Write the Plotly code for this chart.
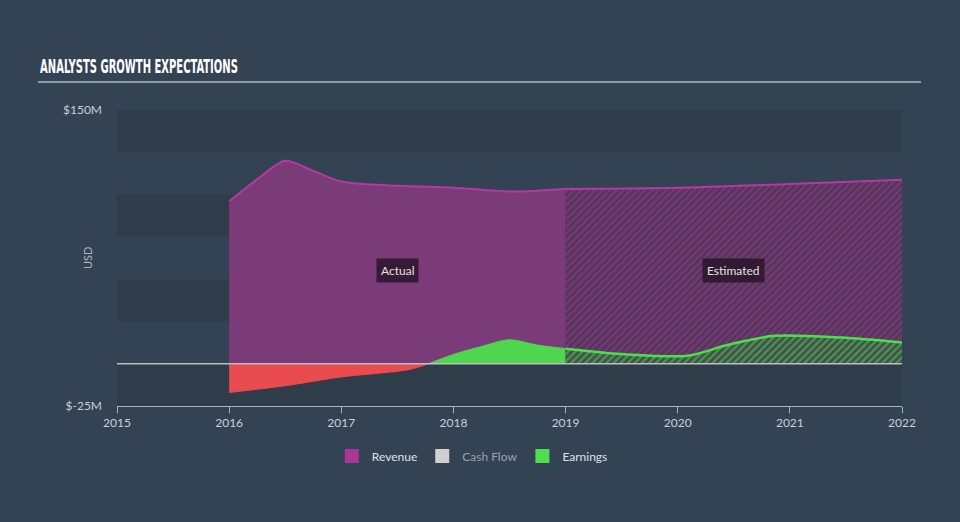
import plotly.graph_objects as go

# ---- data (USD millions) ----
rev_actual_x = [2016, 2016.25, 2016.5, 2016.75, 2017, 2017.5, 2018, 2018.5, 2019]
rev_actual_y = [96, 109, 120, 114, 107.7, 105.2, 104.1, 101.8, 103.3]
rev_est_x = [2019, 2020, 2021, 2022]
rev_est_y = [103.3, 104.0, 106.3, 108.7]

earn_neg_x = [2016, 2016.5, 2017, 2017.35, 2017.6, 2017.78]
earn_neg_y = [-17, -13, -7.8, -5.5, -3.5, 0]
earn_pos_x = [2017.78, 2018, 2018.25, 2018.5, 2018.75, 2019]
earn_pos_y = [0, 5.5, 10.2, 14.2, 11, 8.9]
earn_est_x = [2019, 2019.5, 2020.09, 2020.45, 2020.86, 2021.46, 2022]
earn_est_y = [8.9, 5.7, 4.7, 11.2, 16.5, 15.5, 12.6]

x_ticks = [2015, 2016, 2017, 2018, 2019, 2020, 2021, 2022]
y_tick_vals = [-25, 150]
y_tick_text = ["$-25M", "$150M"]
band_ranges = [(125, 150), (75, 100), (25, 50), (-25, 0)]

legend_names = ["Revenue", "Cash Flow", "Earnings"]
legend_colors = ["#a8389a", "#cfcfcf", "#4fe04f"]

TITLE = "ANALYSTS GROWTH EXPECTATIONS"

BG = "#344353"
REV_LINE = "#b23aa0"
REV_FILL = "#7b3a78"
GREEN = "#4fd64f"
RED = "#e94b4f"

fig = go.Figure()

fig.add_trace(go.Scatter(x=rev_actual_x, y=rev_actual_y, mode="lines",
                         line=dict(color=REV_LINE, width=2, shape="spline", smoothing=0.8),
                         fill="tozeroy", fillcolor=REV_FILL, showlegend=False, hoverinfo="skip"))
fig.add_trace(go.Scatter(x=rev_est_x, y=rev_est_y, mode="lines",
                         line=dict(color=REV_LINE, width=2, shape="spline", smoothing=0.8),
                         fill="tozeroy", fillcolor="rgba(0,0,0,0)",
                         fillpattern=dict(shape="/", fgcolor="#8e3f8a", bgcolor="#55345a",
                                          size=5, solidity=0.5),
                         showlegend=False, hoverinfo="skip"))
fig.add_trace(go.Scatter(x=earn_neg_x, y=earn_neg_y, mode="lines",
                         line=dict(color=RED, width=1, shape="spline", smoothing=0.8),
                         fill="tozeroy", fillcolor=RED, showlegend=False, hoverinfo="skip"))
fig.add_trace(go.Scatter(x=earn_pos_x, y=earn_pos_y, mode="lines",
                         line=dict(color=GREEN, width=1, shape="spline", smoothing=0.8),
                         fill="tozeroy", fillcolor=GREEN, showlegend=False, hoverinfo="skip"))
fig.add_trace(go.Scatter(x=earn_est_x, y=earn_est_y, mode="lines",
                         line=dict(color="#4be04b", width=2.5, shape="spline", smoothing=0.8),
                         fill="tozeroy", fillcolor="rgba(0,0,0,0)",
                         fillpattern=dict(shape="/", fgcolor="#5fcc5f", bgcolor="#3f5048",
                                          size=5, solidity=0.5),
                         showlegend=False, hoverinfo="skip"))

for name, col in zip(legend_names, legend_colors):
    label = name if name != "Cash Flow" else "<span style='color:#98a2ac'>Cash Flow</span>"
    fig.add_trace(go.Scatter(x=[None], y=[None], mode="markers", name=label,
                             marker=dict(symbol="square", size=14, color=col)))

shapes = []
for lo, hi in band_ranges:
    shapes.append(dict(type="rect", xref="x domain", x0=0, x1=1, yref="y", y0=lo, y1=hi,
                       fillcolor="rgba(30,40,52,0.22)", line=dict(width=0), layer="below"))
shapes.append(dict(type="line", xref="x domain", x0=0, x1=1, yref="y", y0=0, y1=0,
                   line=dict(color="#b9bfc6", width=1.5), layer="above"))
shapes.append(dict(type="line", xref="paper", yref="paper", x0=-79 / 785, x1=804 / 785,
                   y0=1 + 28 / 296, y1=1 + 28 / 296, line=dict(color="#8f9aa5", width=2)))

annotations = [
    dict(text=TITLE, xref="paper", yref="paper",
         x=-79 / 785, y=1 + 31 / 296, xanchor="left", yanchor="bottom", showarrow=False,
         font=dict(family="DejaVu Sans Condensed", size=19, color="#ffffff", weight="bold")),
    dict(text="USD", xref="paper", yref="paper", x=-30 / 785, y=(406 - 258) / 296,
         xanchor="center", yanchor="middle", textangle=-90, showarrow=False,
         font=dict(family="Lato", size=11, color="#aab4bf")),
    dict(text="Actual", x=2017.5, y=55, xref="x", yref="y", showarrow=False,
         font=dict(family="Lato", size=12, color="#e2e2e2"),
         bgcolor="rgba(38,20,38,0.8)", borderpad=4),
    dict(text="Estimated", x=2020.5, y=55, xref="x", yref="y", showarrow=False,
         font=dict(family="Lato", size=12, color="#e2e2e2"),
         bgcolor="rgba(38,20,38,0.8)", borderpad=4),
]

fig.update_layout(
    width=960, height=522,
    margin=dict(l=117, r=58, t=110, b=116),
    paper_bgcolor=BG, plot_bgcolor=BG,
    font=dict(family="Lato", color="#c9d0d7", size=12),
    shapes=shapes, annotations=annotations,
    legend=dict(orientation="h", xref="container", yref="container", x=0.492, y=1 - 456 / 522,
                xanchor="center", yanchor="middle", font=dict(size=12, color="#dde1e5"),
                bgcolor="rgba(0,0,0,0)", itemclick=False),
    xaxis=dict(range=[2015, 2022], tickvals=x_ticks, showgrid=False, zeroline=False,
               showline=True, linecolor="#a9b4c0", linewidth=1, ticks="outside",
               ticklen=6, tickcolor="#a9b4c0", tickfont=dict(size=12, color="#c9d0d7")),
    yaxis=dict(range=[-25, 150], tickvals=y_tick_vals, ticktext=y_tick_text, showgrid=False,
               zeroline=False, showline=False, ticks="", ticklabelstandoff=14,
               tickfont=dict(size=12, color="#c9d0d7")),
)

post = """
document.body.style.margin='0';document.body.style.overflow='hidden';
(function(){
  var ts=[].slice.call(document.querySelectorAll('text')).filter(function(e){return e.textContent==='%s';});
  ts.forEach(function(t){
    var b=t.getBBox(); if(!b.width) return;
    var s=198/b.width;
    var prev=t.getAttribute('transform')||'';
    t.setAttribute('transform', prev+' translate('+b.x+',0) scale('+s+',1) translate('+(-b.x)+',0)');
  });
})();
""" % TITLE

fig.write_html("out.html", config={"displayModeBar": False}, post_script=post)
